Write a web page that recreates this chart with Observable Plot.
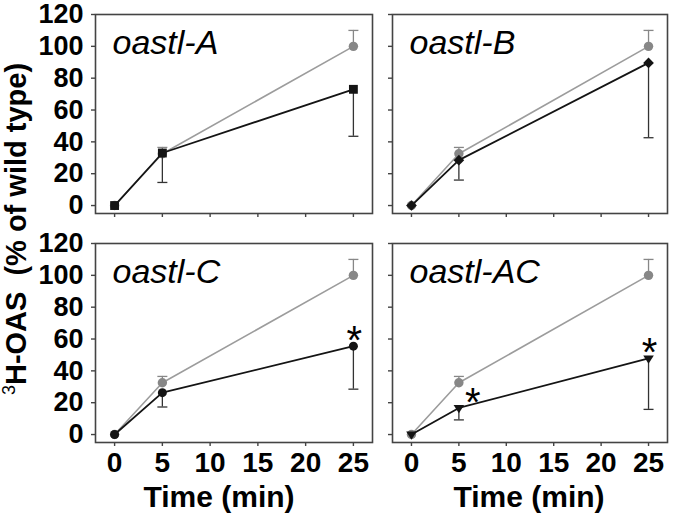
<!DOCTYPE html>
<html><head><meta charset="utf-8">
<script src="https://cdn.jsdelivr.net/npm/d3@7"></script>
<script src="https://cdn.jsdelivr.net/npm/@observablehq/plot@0.6"></script>
<style>
body{margin:0;background:#fff;}
#root{position:relative;width:680px;height:514px;overflow:hidden;font-family:"Liberation Sans",Arial,sans-serif;}
#root > svg{position:absolute;}
</style></head><body><div id="root"></div>
<script>
// ---- data ----
const times = [0, 5, 25];
const xTicks = [0, 5, 10, 15, 20, 25];
const yTicks = [0, 20, 40, 60, 80, 100, 120];
const wtMean = [0, 32.5, 100];
const wtErr  = [0, 4, 10];
const panelTitles = ["oastl-A", "oastl-B", "oastl-C", "oastl-AC"];
const mutA = [0, 33, 73];     const errA  = [0, 18.5, 29.5];
const mutB = [0, 28.5, 89.6]; const errB  = [0, 12.5, 47];
const mutC = [0, 26.3, 55.5]; const errC  = [0, 9, 27];
const mutAC = [0, 16.7, 47.8]; const errAC = [0, 7.5, 32];
const significant = [[], [], [25], [5, 25]];
const xTitle = "Time (min)";

// ---- symbols ----
const cap = {draw(ctx, size){const r = Math.sqrt(size/Math.PI); ctx.moveTo(-r,0); ctx.lineTo(r,0);}};
const triDown = {draw(ctx, size){const r = Math.sqrt(size/Math.PI);
  ctx.moveTo(-1.15*r,-0.65*r); ctx.lineTo(1.15*r,-0.65*r); ctx.lineTo(0,1.15*r); ctx.closePath();}};

const mutants = [
  {mean: mutA, err: errA, symbol: "square", r: 5},
  {mean: mutB, err: errB, symbol: "diamond2", r: 4.8},
  {mean: mutC, err: errC, symbol: "circle", r: 4.5},
  {mean: mutAC, err: errAC, symbol: triDown, r: 4.6}
];

const layout = [
  {left: 0,   top: 0,   width: 380, height: 230, mL: 95, mR: 8,  mT: 14, mB: 17, yLab: true,  xLab: false},
  {left: 380, top: 0,   width: 300, height: 230, mL: 12, mR: 13, mT: 14, mB: 17, yLab: false, xLab: false},
  {left: 0,   top: 214, width: 380, height: 300, mL: 95, mR: 8,  mT: 29, mB: 72, yLab: true,  xLab: true},
  {left: 380, top: 214, width: 300, height: 300, mL: 12, mR: 13, mT: 29, mB: 72, yLab: false, xLab: true}
];

const root = document.getElementById("root");
const GRAY_LINE = "#9c9c9c", GRAY_DOT = "#878787", BLACK = "#141414", AXIS = "#444";

layout.forEach((L, i) => {
  const wt = times.map((t, k) => ({t, v: wtMean[k], e: wtErr[k]}));
  const mu = times.map((t, k) => ({t, v: mutants[i].mean[k], e: mutants[i].err[k]}));
  const sig = mu.filter(d => significant[i].includes(d.t));
  const wtE = wt.filter(d => d.e > 0), muE = mu.filter(d => d.e > 0);
  const svg = Plot.plot({
    width: L.width, height: L.height,
    marginLeft: L.mL, marginRight: L.mR, marginTop: L.mT, marginBottom: L.mB,
    style: {fontFamily: "'Liberation Sans', Arial, sans-serif", background: "transparent", color: AXIS, overflow: "visible"},
    x: {domain: [-2, 27]},
    y: {domain: [-5, 120]},
    marks: [
      Plot.axisX({ticks: xTicks, tickSize: 4, tickPadding: 6, label: null, strokeWidth: 1.4,
        fontSize: 28, fontWeight: "bold", fill: "#000",
        tickFormat: L.xLab ? (d => d) : (() => "")}),
      Plot.axisY({ticks: yTicks, tickSize: 4, tickPadding: 8, label: null, strokeWidth: 1.4,
        fontSize: 27, fontWeight: "bold", fill: "#000",
        tickFormat: L.yLab ? (d => d) : (() => "")}),
      Plot.frame({stroke: AXIS, strokeWidth: 1.6}),
      // wild type
      Plot.ruleX(wtE, {x: "t", y1: "v", y2: d => d.v + d.e, stroke: GRAY_DOT, strokeWidth: 1.3}),
      Plot.dot(wtE, {x: "t", y: d => d.v + d.e, symbol: cap, r: 5, stroke: GRAY_DOT, strokeWidth: 1.3, fill: "none"}),
      Plot.line(wt, {x: "t", y: "v", stroke: GRAY_LINE, strokeWidth: 1.6}),
      Plot.dot(wt, {x: "t", y: "v", r: 4.7, fill: GRAY_DOT, stroke: "none", symbol: "circle"}),
      // mutant
      Plot.ruleX(muE, {x: "t", y1: d => d.v - d.e, y2: "v", stroke: "#333", strokeWidth: 1.3}),
      Plot.dot(muE, {x: "t", y: d => d.v - d.e, symbol: cap, r: 5, stroke: "#333", strokeWidth: 1.3, fill: "none"}),
      Plot.line(mu, {x: "t", y: "v", stroke: BLACK, strokeWidth: 1.8}),
      Plot.dot(mu, {x: "t", y: "v", r: mutants[i].r, symbol: mutants[i].symbol, fill: BLACK, stroke: "none"}),
      // significance asterisks
      Plot.text(sig.filter(d => d.t === 5), {x: "t", y: "v", text: () => "*", fontSize: 40, dx: 14, dy: -5, fill: "#000"}),
      Plot.text(sig.filter(d => d.t === 25), {x: "t", y: "v", text: () => "*", fontSize: 40, dx: 1, dy: -5, fill: "#000"}),
      // panel title
      Plot.text([panelTitles[i]], {frameAnchor: "top-left", text: d => d, dx: 17, dy: 15, lineAnchor: "top",
        textAnchor: "start", fontSize: 34, fontStyle: "italic", fill: "#000"})
    ]
  });
  svg.style.left = L.left + "px";
  svg.style.top = L.top + "px";
  root.appendChild(svg);
});

// axis titles overlay
const ns = "http://www.w3.org/2000/svg";
const ov = document.createElementNS(ns, "svg");
ov.setAttribute("width", 680); ov.setAttribute("height", 514);
ov.style.left = "0px"; ov.style.top = "0px"; ov.style.pointerEvents = "none";
ov.innerHTML = `
<g font-family="'Liberation Sans', Arial, sans-serif" fill="#000">
  <text transform="translate(26,229) rotate(-90)" text-anchor="middle" font-size="29" font-weight="bold"><tspan font-size="18" font-weight="normal" dy="-11">3</tspan><tspan dy="11">H-OAS</tspan><tspan dx="16">(% of wild type)</tspan></text>
  <text x="219" y="507" text-anchor="middle" font-size="30" font-weight="bold">${xTitle}</text>
  <text x="529" y="507" text-anchor="middle" font-size="30" font-weight="bold">${xTitle}</text>
</g>`;
root.appendChild(ov);
</script>
</body></html>
